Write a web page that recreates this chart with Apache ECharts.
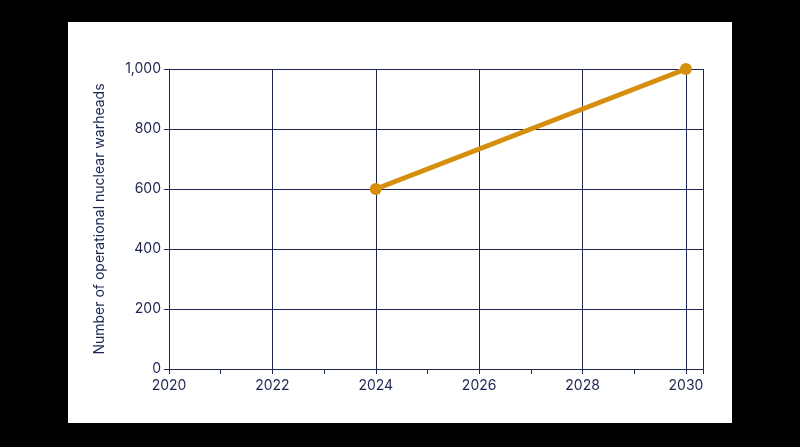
<!DOCTYPE html>
<html><head><meta charset="utf-8">
<script src="https://cdn.jsdelivr.net/npm/echarts@6/dist/echarts.min.js"></script>
<style>html,body{margin:0;background:#000;}#panel{position:absolute;left:68px;top:22px;width:664px;height:401px;background:#fff;}#c{position:absolute;left:0;top:0;width:800px;height:447px;}</style>
</head><body><div id="panel"></div><div id="c"></div>
<script>
const years = [2024, 2030];
const warheads = [600, 1000];
const yTicks = [0, 200, 400, 600, 800, 1000];
const navy = '#1d2552';
const chart = echarts.init(document.getElementById('c'));
chart.setOption({
  backgroundColor: 'transparent',
  grid: {left: 169, right: 97, top: 69, bottom: 78},
  xAxis: {type: 'value', min: 2020, max: 2030.33, interval: 2,
    axisLine: {show: true, lineStyle: {color: navy}},
    axisTick: {show: true, length: 5, lineStyle: {color: navy}},
    minorTick: {show: true, splitNumber: 2, length: 5, lineStyle: {color: navy}},
    splitLine: {show: true, lineStyle: {color: navy, width: 1}},
    axisLabel: {color: navy, fontSize: 14, fontFamily: 'Inter', margin: 10,
      formatter: v => (v % 2 === 0 && v <= 2030) ? String(v) : ''}},
  yAxis: {type: 'value', min: 0, max: 1000, interval: 200,
    name: 'Number of operational nuclear warheads', nameLocation: 'middle', nameGap: 62,
    nameTextStyle: {color: navy, fontSize: 14, fontFamily: 'Inter'},
    axisLine: {show: true, lineStyle: {color: navy}},
    axisTick: {show: true, length: 5, lineStyle: {color: navy}},
    splitLine: {show: true, lineStyle: {color: navy, width: 1}},
    axisLabel: {color: navy, fontSize: 14, fontFamily: 'Inter',
      formatter: v => v.toLocaleString('en-US')}},
  series: [{type: 'line', data: years.map((y, i) => [y, warheads[i]]),
    lineStyle: {color: '#d58f0c', width: 5}, itemStyle: {color: '#d58f0c'},
    symbol: 'circle', symbolSize: 12, animation: false}]
});
</script></body></html>
